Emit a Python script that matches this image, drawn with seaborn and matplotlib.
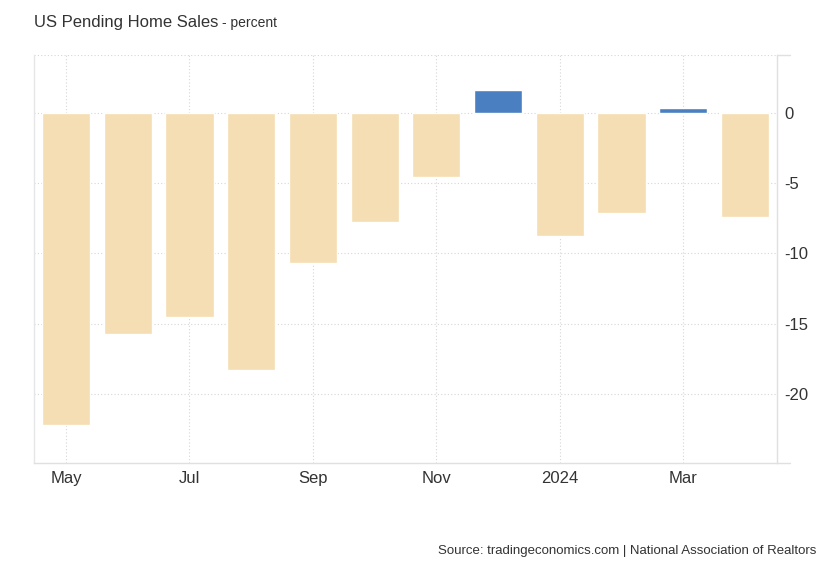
import matplotlib
matplotlib.use("Agg")
import matplotlib.pyplot as plt
import seaborn as sns
import pandas as pd
from matplotlib.lines import Line2D

months = ["May", "Jun", "Jul", "Aug", "Sep", "Oct", "Nov", "Dec", "Jan", "Feb", "Mar", "Apr"]
values = [-22.2, -15.7, -14.5, -18.3, -10.7, -7.8, -4.6, 1.6, -8.8, -7.1, 0.3, -7.4]
tick_pos = [0, 2, 4, 6, 8, 10]
tick_labels = ["May", "Jul", "Sep", "Nov", "2024", "Mar"]
y_ticks = [0, -5, -10, -15, -20]

df = pd.DataFrame({"month": months, "value": values})
df["sign"] = ["pos" if v > 0 else "neg" for v in values]

sns.set_style("white")
plt.rcParams["font.family"] = ["Liberation Sans", "DejaVu Sans"]

fig = plt.figure(figsize=(8.3, 5.67), dpi=100)
ax = fig.add_axes([34/830, 1-463/567, (777-34)/830, (463-55)/567])

sns.barplot(data=df, x="month", y="value", hue="sign", order=months,
            palette={"pos": "#4a7fc1", "neg": "#f5deb3"}, dodge=False,
            width=0.78, legend=False, ax=ax, saturation=1)

ax.set_xlim(-0.518, 11.518)
ax.set_ylim(-24.9, 4.1)
ax.set_xticks(tick_pos)
ax.set_xticklabels(tick_labels)
ax.set_yticks(y_ticks)
ax.set_yticklabels([str(t) for t in y_ticks])
ax.yaxis.tick_right()
ax.set_xlabel("")
ax.set_ylabel("")

ax.grid(True, color="#d6d6d6", linestyle=(0, (1, 2)), linewidth=0.8)
ax.set_axisbelow(True)
ax.axhline(4.1, color="#d6d6d6", linestyle=(0, (1, 2)), linewidth=0.8)

ax.spines["top"].set_visible(False)
ax.spines["left"].set_color("#e6e6e6")
ax.spines["right"].set_color("#e0e0e0")
ax.spines["bottom"].set_color("#e0e0e0")
for s in ["left", "right", "bottom"]:
    ax.spines[s].set_linewidth(1.0)

ax.add_line(Line2D([1.0, 1.0175], [0, 0], transform=ax.transAxes, color="#e0e0e0",
                   linewidth=1.0, clip_on=False))
ax.add_line(Line2D([1.0, 1.0175], [1, 1], transform=ax.transAxes, color="#e0e0e0",
                   linewidth=1.0, clip_on=False))

ax.tick_params(axis="y", length=0, pad=5, labelsize=12, labelcolor="#333333")
ax.tick_params(axis="x", length=0, pad=6, labelsize=12, labelcolor="#333333")

t = fig.text(34/830, 1-22/567, "US Pending Home Sales", fontsize=12, color="#333333", va="center")
fig.canvas.draw()
bb = t.get_window_extent(renderer=fig.canvas.get_renderer())
fig.text((bb.x1 + 4)/830, 1-23/567, "- percent", fontsize=10, color="#333333", va="center")
fig.text(816/830, 1-551/567, "Source: tradingeconomics.com | National Association of Realtors",
         fontsize=9.5, color="#333333", va="center", ha="right")

fig.savefig("out.png", dpi=100)
